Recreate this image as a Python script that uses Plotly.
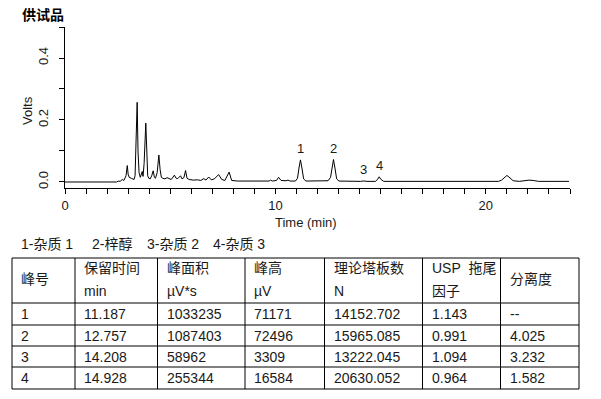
import plotly.graph_objects as go

# ---------------- data ----------------
time_min = [0.0, 2.45, 2.55, 2.62, 2.72, 2.80, 2.90, 2.96, 3.00, 3.05, 3.15, 3.22, 3.28, 3.33, 3.36,
            3.43, 3.47, 3.52, 3.58, 3.63, 3.67, 3.71, 3.76, 3.84, 3.88, 3.93, 3.98, 4.05, 4.12,
            4.19, 4.25, 4.30, 4.38, 4.46, 4.52, 4.58, 4.65, 4.75, 4.85, 4.95, 5.05, 5.20, 5.28,
            5.36, 5.49, 5.56, 5.65, 5.73, 5.80, 5.90, 6.10, 6.30, 6.45, 6.60, 6.70, 6.83, 6.95,
            7.10, 7.30, 7.45, 7.60, 7.80, 7.92, 8.20, 9.00, 9.08, 9.16, 9.70, 9.77, 9.85, 10.05,
            10.15, 10.27, 10.50, 10.60, 10.70, 10.95, 11.05, 11.12, 11.19, 11.26, 11.34, 11.45,
            11.90, 12.04, 12.15, 12.50, 12.62, 12.69, 12.76, 12.83, 12.91, 13.02, 13.40, 14.05,
            14.20, 14.35, 14.75, 14.85, 14.93, 15.02, 15.15, 16.20, 16.27, 16.35, 16.90, 16.98,
            17.08, 20.60, 20.75, 20.90, 21.00, 21.10, 21.30, 21.60, 21.85, 22.05, 22.25, 22.50,
            23.95]
volts = [0.0, 0.0, 0.003, 0.002, 0.008, 0.005, 0.020, 0.053, 0.025, 0.015, 0.012, 0.010, 0.008, 0.020,
         0.080, 0.257, 0.100, 0.030, 0.015, 0.030, 0.034, 0.018, 0.060, 0.190, 0.070, 0.020,
         0.012, 0.010, 0.020, 0.036, 0.015, 0.012, 0.030, 0.087, 0.040, 0.015, 0.012, 0.010,
         0.014, 0.010, 0.008, 0.022, 0.012, 0.011, 0.020, 0.010, 0.014, 0.037, 0.012, 0.008,
         0.006, 0.007, 0.005, 0.011, 0.006, 0.016, 0.007, 0.010, 0.024, 0.008, 0.005, 0.032,
         0.005, 0.003, 0.003, 0.005, 0.003, 0.003, 0.006, 0.003, 0.005, 0.015, 0.005, 0.004,
         0.006, 0.003, 0.003, 0.012, 0.045, 0.0712, 0.045, 0.010, 0.003, 0.003, 0.005, 0.003,
         0.004, 0.015, 0.048, 0.0725, 0.045, 0.010, 0.003, 0.002, 0.002, 0.0033, 0.002, 0.002,
         0.008, 0.0166, 0.008, 0.002, 0.002, 0.004, 0.002, 0.002, 0.004, 0.002, 0.002, 0.006,
         0.016, 0.021, 0.016, 0.004, 0.002, 0.004, 0.006, 0.005, 0.002, 0.002]

x_tick_vals = list(range(0, 25))
x_tick_text = ["0" if v == 0 else ("10" if v == 10 else ("20" if v == 20 else "")) for v in x_tick_vals]
y_tick_vals = [0.0, 0.1, 0.2, 0.3, 0.4, 0.5]
y_tick_text = ["0.0", "", "0.2", "", "0.4", ""]

title_text = "供试品"
x_title = "Time (min)"
y_title = "Volts"

legend_items = ["1-杂质 1", "2-梓醇", "3-杂质 2", "4-杂质 3"]

peak_no = ["1", "2", "3", "4"]
ret_time = [11.187, 12.757, 14.208, 14.928]
peak_area = [1033235, 1087403, 58962, 255344]
peak_height = [71171, 72496, 3309, 16584]
plates = [14152.702, 15965.085, 13222.045, 20630.052]
tailing = [1.143, 0.991, 1.094, 0.964]
resolution = [None, 4.025, 3.232, 1.582]

header_top = ["峰号", "保留时间", "峰面积", "峰高", "理论塔板数", "USP&nbsp;&nbsp;拖尾", "分离度"]
header_bottom = ["", "min", "µV*s", "µV", "N", "因子", ""]

# ---------------- layout constants ----------------
W, H = 601, 399
ML, MR, MT, MB = 65, 31, 27, 211
PW = W - ML - MR
PH = H - MT - MB
PLOT_BOTTOM = MT + PH

def px(x):
    return (x - ML) / PW

def py(y):
    return (PLOT_BOTTOM - y) / PH

FONT = "Liberation Sans, Arial, Noto Sans CJK SC, sans-serif"
TXT = "#1a1a1a"

fig = go.Figure()
fig.add_trace(go.Scatter(x=time_min, y=volts, mode="lines",
                         line=dict(color="black", width=1), hoverinfo="skip", showlegend=False))

annotations = []
# peak number labels
for lab, rt, h in zip(peak_no, ret_time, peak_height):
    annotations.append(dict(x=rt, y=h / 1e6 + 0.036, xref="x", yref="y", text=lab, showarrow=False,
                            font=dict(family=FONT, size=13, color=TXT), xanchor="center", yanchor="middle"))

# title
annotations.append(dict(x=px(20), y=py(14), xref="paper", yref="paper", text="<b>" + title_text + "</b>",
                        showarrow=False, xanchor="left", yanchor="middle",
                        font=dict(family="Noto Sans CJK SC, sans-serif", size=14, color="black")))
# axis titles
annotations.append(dict(x=px(306), y=py(222), xref="paper", yref="paper", text=x_title, showarrow=False,
                        xanchor="center", yanchor="middle", font=dict(family=FONT, size=13, color=TXT)))
annotations.append(dict(x=px(27), y=py(111), xref="paper", yref="paper", text=y_title, showarrow=False,
                        xanchor="center", yanchor="middle", textangle=-90,
                        font=dict(family=FONT, size=13, color=TXT)))

# legend line
legend_x = [19, 90, 145, 211]
for item, lx in zip(legend_items, legend_x):
    annotations.append(dict(x=px(lx), y=py(244), xref="paper", yref="paper", text=item, showarrow=False,
                            xanchor="left", yanchor="middle", font=dict(family=FONT, size=14, color=TXT)))

# table
col_x = [12, 75, 157.5, 245, 324.5, 422.5, 500.5, 579]
row_y = [258, 303, 325, 346, 367, 389]
PAD = 7

shapes = []
for cx in col_x:
    shapes.append(dict(type="line", xref="paper", yref="paper", x0=px(cx), x1=px(cx),
                       y0=py(row_y[0]), y1=py(row_y[-1]), line=dict(color="black", width=1)))
for ry in row_y:
    shapes.append(dict(type="line", xref="paper", yref="paper", x0=px(col_x[0]), x1=px(col_x[-1]),
                       y0=py(ry), y1=py(ry), line=dict(color="black", width=1)))

def cell(text, ci, ycenter):
    annotations.append(dict(x=px(col_x[ci] + PAD), y=py(ycenter), xref="paper", yref="paper", text=text,
                            showarrow=False, xanchor="left", yanchor="middle",
                            font=dict(family=FONT, size=14, color=TXT)))

for ci, (top, bot) in enumerate(zip(header_top, header_bottom)):
    if bot:
        cell(top, ci, 268)
        cell(bot, ci, 291)
    else:
        cell(top, ci, 279)

for ri in range(len(peak_no)):
    yc = (row_y[ri + 1] + row_y[ri + 2]) / 2
    vals = [peak_no[ri], f"{ret_time[ri]:.3f}", str(peak_area[ri]), str(peak_height[ri]),
            f"{plates[ri]:.3f}", f"{tailing[ri]:.3f}",
            "--" if resolution[ri] is None else f"{resolution[ri]:.3f}"]
    for ci, v in enumerate(vals):
        cell(v, ci, yc)

fig.update_layout(
    width=W, height=H,
    margin=dict(l=ML, r=MR, t=MT, b=MB),
    paper_bgcolor="white", plot_bgcolor="white",
    showlegend=False,
    annotations=annotations,
    shapes=shapes,
    xaxis=dict(range=[0, 24], showgrid=False, zeroline=False, showline=True, linecolor="black", linewidth=1,
               ticks="outside", ticklen=5, tickcolor="black", tickwidth=1,
               tickvals=x_tick_vals, ticktext=x_tick_text,
               tickfont=dict(family=FONT, size=13, color=TXT)),
    yaxis=dict(range=[-0.0194, 0.5], showgrid=False, zeroline=False, showline=True, linecolor="black",
               linewidth=1, ticks="outside", ticklen=5, tickcolor="black", tickwidth=1,
               tickvals=y_tick_vals, ticktext=y_tick_text, tickangle=-90, ticklabelstandoff=6,
               tickfont=dict(family=FONT, size=13, color=TXT)),
)

fig.write_html("out.html", config={"displayModeBar": False},
               post_script="document.body.style.margin='0';document.body.style.padding='0';")
